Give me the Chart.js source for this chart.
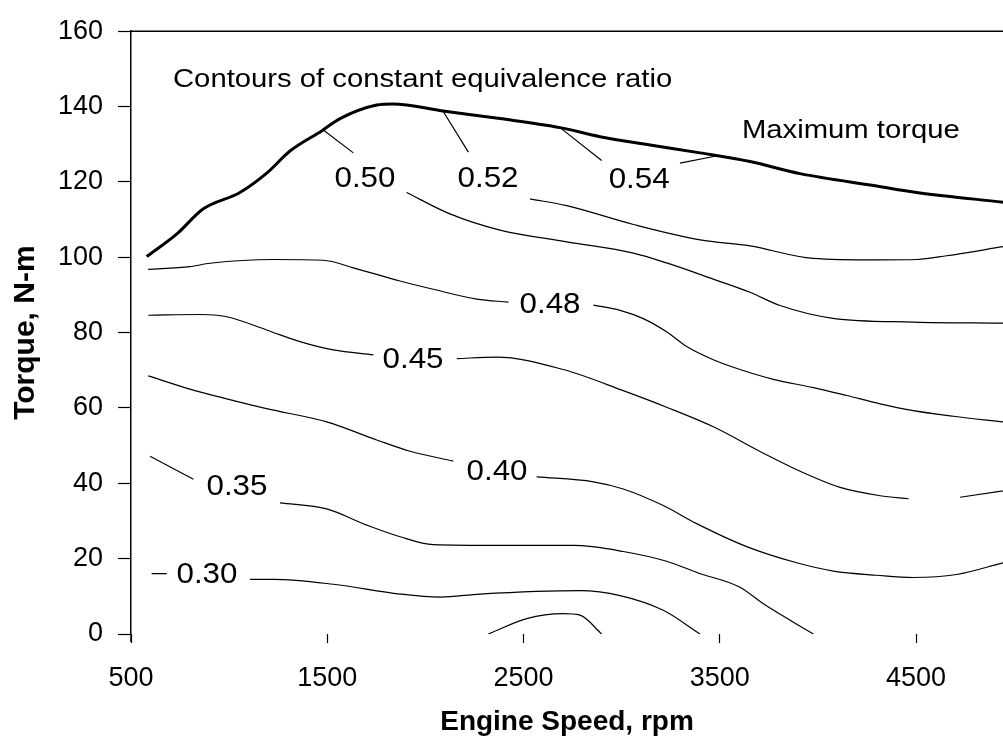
<!DOCTYPE html>
<html>
<head>
<meta charset="utf-8">
<title>Equivalence ratio contours</title>
<script src="https://cdn.jsdelivr.net/npm/chart.js@4.4.1/dist/chart.umd.min.js"></script>
<style>
  html, body { margin: 0; padding: 0; background: #fff; }
  #wrap { width: 1003px; height: 749px; }
</style>
</head>
<body>
<div id="wrap"><canvas id="contourChart" width="1003" height="749"></canvas></div>
<script>
// Engine speed (rpm) and torque (N-m).
// A null torque leaves a gap in the line where its label sits.
const maxTorqueSpeed = [580, 734, 867, 1055, 1193, 1310, 1473, 1565, 1752, 1835, 2090, 2380, 2686, 2890, 3145, 3400, 3654, 3909, 4300, 4503, 4943];
const maxTorqueValue = [100.2, 106.2, 112.8, 117.2, 122.4, 128.2, 133.6, 136.8, 140.4, 140.7, 138.8, 136.8, 134.4, 132, 129.8, 127.7, 125.4, 122.2, 118.9, 117.2, 114.6];

const phi054Speed = [2686, 2898, 3090, 3297, 3476];
const phi054Torque = [134.4, 125.7, null, 125, 126.8];

const phi052Speed = [2091, 2219, 2320, 2533, 2720, 3060, 3400, 3654, 3975, 4300, 4505, 4656, 4943];
const phi052Torque = [138.7, 127.9, null, 115.5, 113.7, 108.7, 104.6, 103, 99.7, 99.3, 99.4, 100.4, 102.8];

const phi050Speed = [1480, 1633, 1690, 1904, 2125, 2380, 2720, 3060, 3229, 3467, 3654, 3807, 4077, 4486, 4943];
const phi050Torque = [133.8, 127.7, null, 117.2, 111.5, 107.2, 104.1, 101.1, 98.5, 94.2, 90.7, 87.2, 83.8, 82.8, 82.5];

const phi048Speed = [587, 800, 903, 1225, 1480, 1633, 1871, 2040, 2262, 2423, 2635, 2856, 2992, 3110, 3229, 3331, 3467, 3603, 3773, 3977, 4147, 4317, 4486, 4690, 4943];
const phi048Torque = [96.8, 97.5, 98.4, 99.4, 99.2, 97.2, 93.7, 91.5, 88.9, 88.1, null, 87.3, 85.9, 83.7, 80.2, 76.3, 72.8, 70.2, 67.6, 65.4, 63.3, 61.1, 59.3, 57.8, 56.3];

const phi045Speed = [588, 852, 988, 1191, 1361, 1531, 1735, 1937, 2160, 2363, 2702, 3008, 3229, 3467, 3722, 3926, 4113, 4317, 4462, 4600, 4724, 4943];
const phi045Torque = [84.6, 84.8, 84.2, 80.7, 77.6, 75.4, 74.1, null, 73.1, 73.5, 70.2, 64.6, 60.2, 55, 48, 42.8, 38.9, 36.7, 35.9, null, 36.3, 38];

const phi040Speed = [588, 800, 988, 1191, 1497, 1752, 1922, 2142, 2365, 2567, 2856, 3008, 3212, 3382, 3637, 3892, 4079, 4300, 4486, 4707, 4943];
const phi040Torque = [68.5, 65, 62.4, 59.8, 56.3, 51.5, 48.5, 45.9, null, 41.7, 40.4, 38.5, 34.1, 29.3, 23.2, 18.9, 16.7, 15.6, 15, 15.8, 18.9];

const phi035Speed = [597, 818, 1040, 1259, 1497, 1701, 1871, 2040, 2380, 2754, 3008, 3229, 3390, 3603, 3722, 3977];
const phi035Torque = [47.2, 41.1, null, 34.8, 33.2, 28.9, 25.8, 23.7, 23.5, 23.5, 21.9, 19.3, 16.2, 12.4, 8, 0];

const phi030Speed = [605, 682, 887, 1106, 1225, 1531, 1871, 2075, 2278, 2788, 2992, 3212, 3399];
const phi030Torque = [16, 16, null, 14.5, 14.5, 13.2, 10.6, 9.8, 10.6, 11.5, 10.2, 6.3, 0];

const innerSpeed = [2321, 2516, 2703, 2788, 2898];
const innerTorque = [0, 4.1, 5.4, 5, 0];

const contourLabels = ["0.50", "0.52", "0.54", "0.48", "0.45", "0.40", "0.35", "0.30"];
const contourLabelSpeed = [1692, 2319, 3089, 2635, 1937, 2365, 1040, 887];
const contourLabelTorque = [120.9, 120.9, 120.6, 87.2, 72.8, 43.1, 38.9, 15.7];

const noteText = ["Contours of constant equivalence ratio", "Maximum torque"];
const noteSpeed = [714, 3613];
const noteTorque = [147, 133.6];

const speedTicks = [500, 1500, 2500, 3500, 4500];
const torqueTicks = [0, 20, 40, 60, 80, 100, 120, 140, 160];

const FONT = "'Liberation Sans', Arial, Helvetica, sans-serif";

document.addEventListener("DOMContentLoaded", function () {
  Chart.defaults.font.family = FONT;
  Chart.defaults.color = "#000";
  createContourChart();
});

function toPoints(speeds, torques) {
  return speeds.map((s, i) => ({ x: s, y: torques[i] }));
}

function lineSet(label, speeds, torques, width) {
  return {
    label: label,
    data: toPoints(speeds, torques),
    showLine: true,
    borderColor: "#000",
    borderWidth: width,
    pointRadius: 0,
    cubicInterpolationMode: "monotone",
    spanGaps: false,
  };
}

// text drawn a little wider than the font, like the scanned original
function drawWide(ctx, text, x, y, font, stretch) {
  ctx.save();
  ctx.translate(x, y);
  ctx.scale(stretch, 1);
  ctx.font = font;
  ctx.textAlign = "left";
  ctx.textBaseline = "middle";
  ctx.fillText(text, 0, 0);
  ctx.restore();
}

const annotationPlugin = {
  id: "contourAnnotations",
  afterDatasetsDraw(chart) {
    const { ctx, chartArea, scales } = chart;
    ctx.save();
    ctx.strokeStyle = "#000";
    ctx.lineWidth = 1.5;
    ctx.beginPath();
    ctx.moveTo(chartArea.left, chartArea.top);
    ctx.lineTo(chartArea.right, chartArea.top);
    // the value axis runs on a little past zero, as in the original
    ctx.moveTo(chartArea.left, chartArea.bottom);
    ctx.lineTo(chartArea.left, chartArea.bottom + 8);
    ctx.stroke();

    ctx.fillStyle = "#000";
    const labelFont = "29px " + FONT;
    contourLabels.forEach((txt, i) => {
      ctx.font = labelFont;
      const w = ctx.measureText(txt).width * 1.08;
      const x = scales.x.getPixelForValue(contourLabelSpeed[i]) - w / 2;
      const y = scales.y.getPixelForValue(contourLabelTorque[i]);
      drawWide(ctx, txt, x, y, labelFont, 1.08);
    });

    noteText.forEach((txt, i) => {
      const x = scales.x.getPixelForValue(noteSpeed[i]);
      const y = scales.y.getPixelForValue(noteTorque[i]);
      drawWide(ctx, txt, x, y, "25px " + FONT, 1.17);
    });
    ctx.restore();
  },
};

function createContourChart() {
  const ctx = document.getElementById("contourChart").getContext("2d");
  return new Chart(ctx, {
    type: "scatter",
    data: {
      datasets: [
        lineSet("Maximum torque", maxTorqueSpeed, maxTorqueValue, 3),
        lineSet("0.54", phi054Speed, phi054Torque, 1.2),
        lineSet("0.52", phi052Speed, phi052Torque, 1.2),
        lineSet("0.50", phi050Speed, phi050Torque, 1.2),
        lineSet("0.48", phi048Speed, phi048Torque, 1.2),
        lineSet("0.45", phi045Speed, phi045Torque, 1.2),
        lineSet("0.40", phi040Speed, phi040Torque, 1.2),
        lineSet("0.35", phi035Speed, phi035Torque, 1.2),
        lineSet("0.30", phi030Speed, phi030Torque, 1.2),
        lineSet("inner", innerSpeed, innerTorque, 1.2),
      ],
    },
    options: {
      responsive: false,
      animation: false,
      events: [],
      layout: { padding: { top: 21, right: 0, bottom: 0, left: 0 } },
      plugins: { legend: { display: false }, tooltip: { enabled: false } },
      scales: {
        x: {
          type: "linear",
          min: 500,
          max: 4943,
          afterBuildTicks: (scale) => {
            scale.ticks = speedTicks.map((v) => ({ value: v }));
          },
          afterFit: (scale) => {
            scale.height = 115;
          },
          ticks: {
            font: { size: 27 },
            padding: 19,
            maxRotation: 0,
            callback: (value) => String(value),
          },
          grid: { drawOnChartArea: false, drawTicks: true, tickLength: 9, color: "#000", tickWidth: 1.2 },
          border: { display: false },
          title: {
            display: true,
            text: "Engine Speed, rpm",
            font: { size: 28, weight: "bold" },
            padding: { top: 0, bottom: 10 },
          },
        },
        y: {
          type: "linear",
          min: 0,
          max: 160,
          afterBuildTicks: (scale) => {
            scale.ticks = torqueTicks.map((v) => ({ value: v }));
          },
          afterFit: (scale) => {
            scale.width = 131;
          },
          ticks: { font: { size: 27 }, padding: 15 },
          grid: { drawOnChartArea: false, drawTicks: true, tickLength: 13, color: "#000", tickWidth: 1.2 },
          border: { display: true, color: "#000", width: 1.5 },
          title: {
            display: true,
            text: "Torque, N-m",
            font: { size: 30, weight: "bold" },
            padding: { top: 8, bottom: 0 },
          },
        },
      },
    },
    plugins: [annotationPlugin],
  });
}
</script>
</body>
</html>
